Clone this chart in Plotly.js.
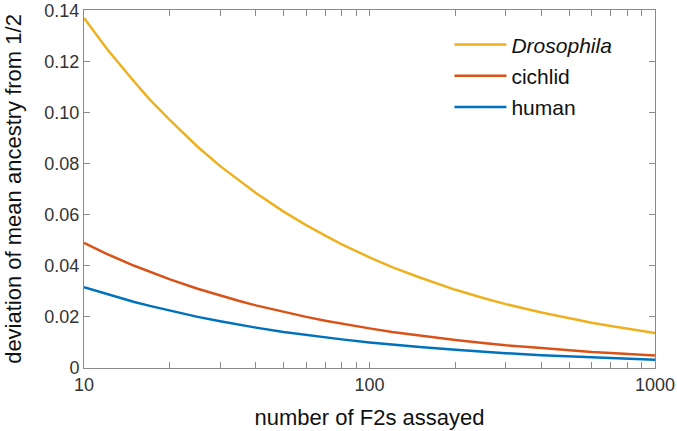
<!DOCTYPE html>
<html>
<head>
<meta charset="utf-8">
<script src="https://cdn.plot.ly/plotly-3.0.1.min.js"></script>
<style>
  html, body { margin: 0; padding: 0; background: #fff; }
  #chart { width: 677px; height: 431px; }
</style>
</head>
<body>
<div id="chart"></div>
<script>
// number of F2s (points read along the log axis)
const nF2 = [10, 12, 15, 17, 20, 25, 30, 35, 40, 50, 60, 70, 80, 100, 120, 150, 200, 250, 300, 400, 500, 600, 700, 800, 1000];

// deviation of mean ancestry from 1/2
const drosophila = [0.137, 0.125, 0.112, 0.105, 0.097, 0.0866, 0.079, 0.0732, 0.0685, 0.0612, 0.0559, 0.0518, 0.0484, 0.0433, 0.0395, 0.0354, 0.0306, 0.0274, 0.025, 0.0217, 0.0194, 0.0177, 0.0164, 0.0153, 0.0137];
const cichlid    = [0.049, 0.0447, 0.040, 0.0376, 0.0347, 0.031, 0.0283, 0.0262, 0.0245, 0.0219, 0.020, 0.0185, 0.0173, 0.0155, 0.0141, 0.0127, 0.011, 0.0098, 0.0089, 0.0078, 0.0069, 0.0063, 0.0059, 0.0055, 0.0049];
const human      = [0.0316, 0.0289, 0.0258, 0.0243, 0.0224, 0.020, 0.0183, 0.0169, 0.0158, 0.0141, 0.0129, 0.012, 0.0112, 0.010, 0.0091, 0.0082, 0.0071, 0.0063, 0.0058, 0.005, 0.0045, 0.0041, 0.0038, 0.0035, 0.0032];

const xTickVals = [10, 20, 30, 40, 50, 60, 70, 80, 90, 100, 200, 300, 400, 500, 600, 700, 800, 900, 1000];
const xTickText = ['10', '', '', '', '', '', '', '', '', '100', '', '', '', '', '', '', '', '', '1000'];
const yTickVals = [0, 0.02, 0.04, 0.06, 0.08, 0.10, 0.12, 0.14];
const yTickText = ['0', '0.02', '0.04', '0.06', '0.08', '0.10', '0.12', '0.14'];

const font = 'Arial, "Liberation Sans", Helvetica, sans-serif';

function curve(y, name, color, group) {
    return {
        x: nF2, y: y, name: name, legendgroup: group,
        type: 'scatter', mode: 'lines',
        line: { color: color, width: 2.5 }
    };
}

const traces = [
    curve(drosophila, '<i>Drosophila</i>', '#EDB120', 'a'),
    curve(cichlid, 'cichlid', '#D95319', 'b'),
    curve(human, 'human', '#0072BD', 'c')
];

const axisStyle = {
    showgrid: false, zeroline: false,
    showline: true, linecolor: '#8a8a8a', linewidth: 1, mirror: 'ticks',
    ticks: 'inside', ticklen: 6, tickcolor: '#8a8a8a', tickwidth: 1,
    ticklabeloverflow: 'allow',
    tickfont: { family: font, size: 18, color: '#333' }
};

Plotly.newPlot('chart', traces, {
    width: 677, height: 431,
    margin: { l: 84, r: 22, t: 10, b: 63 },
    paper_bgcolor: '#fff', plot_bgcolor: '#fff',
    font: { family: font, color: '#222' },
    xaxis: Object.assign({}, axisStyle, {
        type: 'log', range: [1, 3],
        tickmode: 'array', tickvals: xTickVals, ticktext: xTickText,
        title: { text: 'number of F2s assayed', font: { family: font, size: 22, color: '#111' }, standoff: 16 }
    }),
    yaxis: Object.assign({}, axisStyle, {
        range: [0, 0.1401],
        tickmode: 'array', tickvals: yTickVals, ticktext: yTickText,
        title: { text: 'deviation of mean ancestry from 1/2', font: { family: font, size: 22, color: '#111' }, standoff: 16 }
    }),
    legend: {
        x: 0.64, y: 0.96, xanchor: 'left', yanchor: 'top',
        bgcolor: 'rgba(0,0,0,0)', borderwidth: 0,
        font: { family: font, size: 21, color: '#111' },
        itemwidth: 52,
        traceorder: 'grouped', tracegroupgap: 1
    },
    showlegend: true
}, { displayModeBar: false, staticPlot: true });
</script>
</body>
</html>
